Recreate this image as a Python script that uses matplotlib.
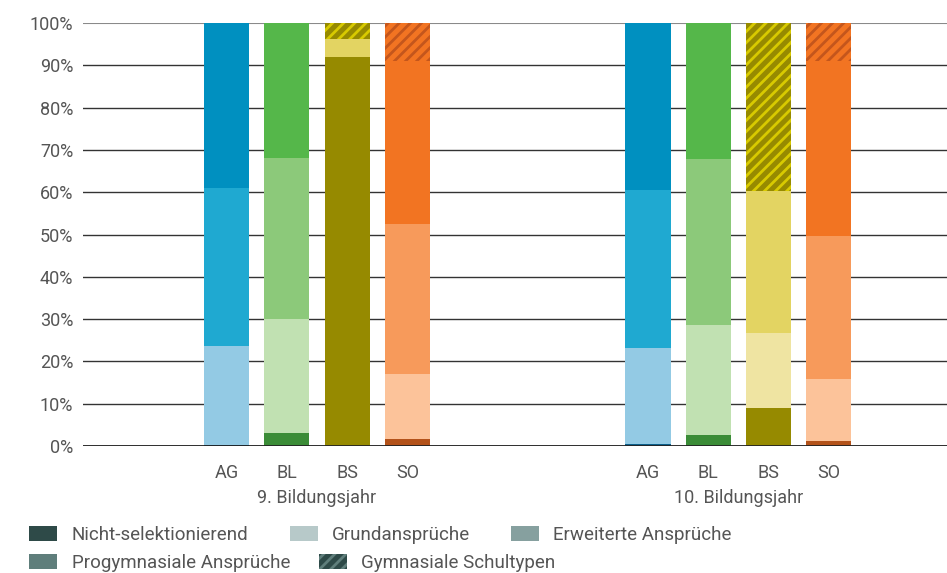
import numpy as np
import matplotlib
matplotlib.use("Agg")
from matplotlib import pyplot as plt
from matplotlib.patches import Patch
import matplotlib.transforms as mtransforms

plt.rcParams['font.family'] = ['Roboto', 'DejaVu Sans']
plt.rcParams['hatch.linewidth'] = 2.0

cantons = ["AG", "BL", "BS", "SO"]
years = ["9. Bildungsjahr", "10. Bildungsjahr"]
categories = ["Nicht-selektionierend", "Grundansprüche", "Erweiterte Ansprüche",
              "Progymnasiale Ansprüche", "Gymnasiale Schultypen"]

# Anteile in %, je Kanton (AG, BL, BS, SO)
nicht_sel_9 = [0.3, 3.1, 92.0, 1.7]
grund_9 = [23.4, 26.9, 0.0, 15.4]
erweitert_9 = [37.3, 38.1, 4.3, 35.4]
progym_9 = [39.0, 31.9, 0.0, 38.6]
gym_9 = [0.0, 0.0, 3.7, 8.9]

nicht_sel_10 = [0.5, 2.6, 9.0, 1.2]
grund_10 = [22.7, 26.0, 17.8, 14.6]
erweitert_10 = [37.3, 39.2, 33.6, 33.8]
progym_10 = [39.5, 32.2, 0.0, 41.4]
gym_10 = [0.0, 0.0, 39.6, 9.0]

# Farben je Kanton: NS, Grund, Erweitert, Progym, Gym-Basis, Gym-Schraffur
farben = {
    "AG": ['#0b5f8a', '#93cae4', '#1fa9d1', '#0090c0', '#0090c0', '#0b6f9a'],
    "BL": ['#3b8c37', '#c1e1b2', '#8cc97a', '#55b74a', '#55b74a', '#3b8c37'],
    "BS": ['#968a00', '#efe4a2', '#e3d462', '#968a00', '#968a00', '#d8ca00'],
    "SO": ['#b3521a', '#fcc39a', '#f79a5b', '#f27422', '#f27422', '#c4561c'],
}
leg_farben = ['#2e4a48', '#b7c9c9', '#86a09f', '#5f7e7b', '#2e4a48', '#5f7e7b']

data = [
    [nicht_sel_9, grund_9, erweitert_9, progym_9, gym_9],
    [nicht_sel_10, grund_10, erweitert_10, progym_10, gym_10],
]

fig = plt.figure(figsize=(9.47, 5.73), dpi=100)
ax = fig.add_axes([0.0876, 0.2216, 0.9124, 0.7383])

breite = 0.75
for g in range(2):
    xs = np.arange(4) + g * 7
    bottom = np.zeros(4)
    for k in range(5):
        vals = np.array(data[g][k])
        for i, c in enumerate(cantons):
            if vals[i] <= 0:
                continue
            f = farben[c]
            if k == 4:
                ax.bar(xs[i], vals[i], breite, bottom=bottom[i], color=f[4],
                       edgecolor=f[5], hatch='///', linewidth=0, zorder=2)
            else:
                ax.bar(xs[i], vals[i], breite, bottom=bottom[i], color=f[k],
                       linewidth=0, zorder=2)
        bottom += vals

ax.set_ylim(0, 100)
ax.set_xlim(-2.39, 11.97)
ax.set_yticks(np.arange(0, 101, 10))
ax.set_yticklabels([f"{v}%" for v in range(0, 101, 10)])
ax.yaxis.grid(True, color='#333333', linewidth=1.0, zorder=0)
ax.set_axisbelow(True)
gl = ax.get_ygridlines()
gl[-1].set_color('#8a8a8a')
gl[-1].set_linewidth(1.5)
ax.axhline(0, color='#222222', linewidth=1.3, zorder=3)
for s in ax.spines.values():
    s.set_visible(False)

pos = list(np.arange(4)) + list(np.arange(4) + 7)
ax.set_xticks(pos)
ax.set_xticklabels(cantons * 2)
ax.tick_params(axis='both', length=0, labelsize=13, labelcolor='#555555')
ax.tick_params(axis='x', pad=13)
ax.tick_params(axis='y', pad=7)

trans = mtransforms.blended_transform_factory(ax.transData, fig.transFigure)
for g, jahr in enumerate(years):
    ax.text(1.5 + g * 7, 1 - 498 / 573, jahr, transform=trans, ha='center',
            va='center', fontsize=13, color='#555555')

handles = []
for k, cat in enumerate(categories):
    if k == 4:
        handles.append(Patch(facecolor=leg_farben[4], edgecolor=leg_farben[5],
                             hatch='///', linewidth=0, label=cat))
    else:
        handles.append(Patch(facecolor=leg_farben[k], linewidth=0, label=cat))

leg_kw = dict(frameon=False, fontsize=13.5, labelcolor='#555555', handlelength=1.5,
              handleheight=0.8, handletextpad=0.75, borderaxespad=0,
              borderpad=0, loc='center left')
fig.legend(handles=handles[:3], ncol=3, columnspacing=2.2,
           bbox_to_anchor=(0.031, 1 - 535 / 573), **leg_kw)
fig.legend(handles=handles[3:], ncol=2, columnspacing=1.55,
           bbox_to_anchor=(0.031, 1 - 563 / 573), **leg_kw)

fig.savefig("out.png", dpi=100)
